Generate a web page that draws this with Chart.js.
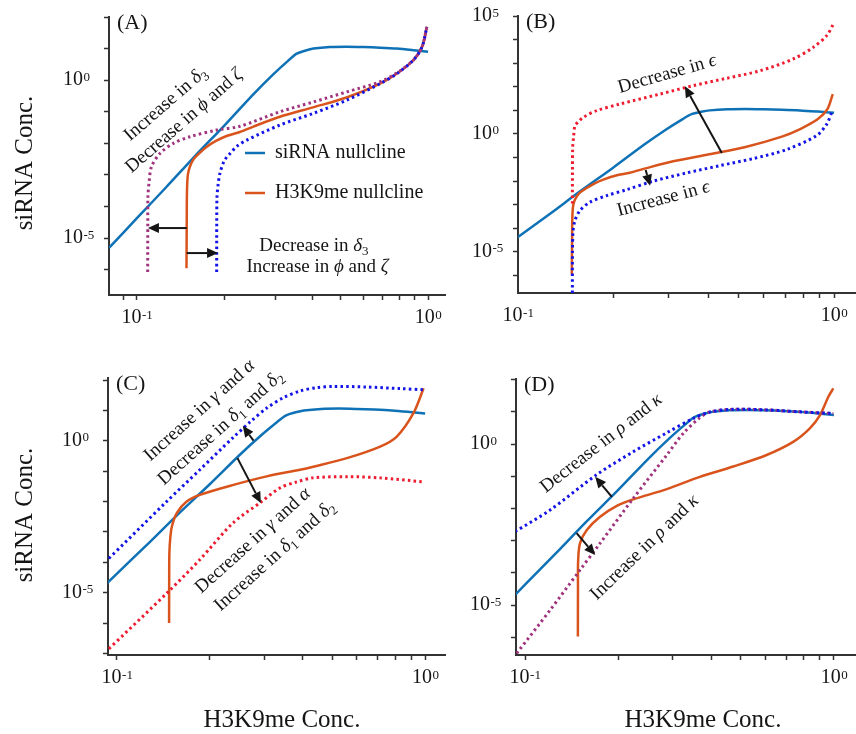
<!DOCTYPE html>
<html>
<head>
<meta charset="utf-8">
<script src="https://cdn.jsdelivr.net/npm/chart.js@4.4.0/dist/chart.umd.min.js"></script>
<style>
  body { margin: 0; background: #fff; }
  #wrap { position: relative; width: 856px; height: 734px; overflow: hidden; }
  canvas { position: absolute; }
</style>
</head>
<body>
<div id="wrap">
  <canvas id="cA" width="450" height="330" style="left:0;top:0"></canvas>
  <canvas id="cB" width="416" height="330" style="left:440px;top:0"></canvas>
  <canvas id="cC" width="450" height="404" style="left:0;top:330px"></canvas>
  <canvas id="cD" width="416" height="404" style="left:440px;top:330px"></canvas>
</div>
<script>
// siRNA nullcline (same curve in all four panels)
const sirnaX = [0.0802, 0.1, 0.126, 0.158, 0.2, 0.251, 0.295, 0.331, 0.354, 0.38, 0.404, 0.46, 0.525, 0.6, 0.684, 0.78, 0.891, 1.0];
const sirnaY = [4.9e-6, 4.27e-5, 4.07e-4, 3.89e-3, 3.72e-2, 0.355, 1.58, 4.17, 6.92, 8.71, 10.0, 11.2, 11.5, 11.2, 10.7, 10.0, 8.91, 7.94];

const h3TopX = [0.148, 0.1483, 0.1486, 0.1496, 0.152, 0.1567, 0.1644, 0.1738, 0.1862, 0.2042, 0.2259, 0.2512, 0.3097, 0.4027, 0.5248, 0.6839, 0.7816, 0.8892, 0.9528, 0.9908];
const h3TopY = [1.12e-6, 3.16e-5, 3.16e-4, 1.0e-3, 1.82e-3, 3.16e-3, 5.01e-3, 7.76e-3, 1.17e-2, 1.74e-2, 2.29e-2, 3.39e-2, 6.92e-2, 0.138, 0.282, 0.776, 1.62, 4.27, 11.2, 49.0];
const h3CX = [0.1476, 0.1477, 0.1479, 0.1489, 0.1507, 0.1563, 0.1683, 0.1858, 0.2388, 0.3062, 0.3926, 0.4335, 0.5572, 0.7145, 0.8091, 0.9162, 0.9886];
const h3CY = [1.0e-6, 3.16e-5, 2.0e-4, 6.31e-4, 1.51e-3, 4.17e-3, 1.0e-2, 1.66e-2, 3.55e-2, 6.76e-2, 0.112, 0.141, 0.269, 0.646, 1.38, 8.13, 53.7];
const h3DX = [0.1483, 0.1484, 0.1486, 0.1507, 0.1585, 0.175, 0.1982, 0.2239, 0.2877, 0.3681, 0.4721, 0.6053, 0.7379, 0.8356, 0.9016, 0.9594, 0.9954];
const h3DY = [1.05e-6, 3.16e-5, 2.51e-4, 8.32e-4, 2.14e-3, 5.5e-3, 1.2e-2, 1.91e-2, 3.98e-2, 9.55e-2, 0.2, 0.457, 1.17, 3.09, 7.94, 29.5, 53.7];

// (A) shifted H3K9me nullclines
const aPinkX = [0.1089, 0.109, 0.1091, 0.1102, 0.1122, 0.12, 0.1334, 0.1521, 0.1879, 0.2259, 0.3097, 0.4036, 0.526, 0.6839, 0.7816, 0.8892, 0.9528, 0.9908];
const aPinkY = [8.51e-7, 3.16e-5, 2.0e-4, 6.31e-4, 1.82e-3, 4.79e-3, 1.0e-2, 1.62e-2, 2.63e-2, 3.47e-2, 0.1, 0.204, 0.427, 0.891, 1.7, 4.27, 11.2, 49.0];
const aBlueX = [0.1879, 0.188, 0.1884, 0.1901, 0.1928, 0.1995, 0.2089, 0.2213, 0.2382, 0.3097, 0.4036, 0.526, 0.6839, 0.7816, 0.8892, 0.9528, 0.9908];
const aBlueY = [8.51e-7, 3.16e-5, 2.0e-4, 5.01e-4, 1.12e-3, 2.82e-3, 4.79e-3, 8.32e-3, 1.26e-2, 3.8e-2, 8.91e-2, 0.234, 0.776, 1.62, 4.27, 11.2, 49.0];

// (B) epsilon
const bRedX = [0.1486, 0.1487, 0.1489, 0.15, 0.1514, 0.1549, 0.1611, 0.1774, 0.2104, 0.2812, 0.3589, 0.4571, 0.5834, 0.743, 0.859, 0.9484, 0.9954];
const bRedY = [1.12e-3, 3.16e-2, 0.251, 0.794, 2.24, 3.16, 5.13, 9.77, 18.6, 49.0, 112, 229, 479, 1510, 4680, 14800, 45700];
const bBlueX = [0.1486, 0.1487, 0.1493, 0.1514, 0.157, 0.169, 0.191, 0.2208, 0.2679, 0.342, 0.4355, 0.5559, 0.7079, 0.881, 0.9484, 0.984];
const bBlueY = [1.82e-7, 1.0e-5, 7.08e-5, 2.14e-4, 5.62e-4, 1.29e-3, 2.45e-3, 4.37e-3, 1.0e-2, 2.24e-2, 4.57e-2, 9.12e-2, 0.219, 0.851, 2.63, 8.32];

// (C) gamma, alpha, delta1, delta2
const cBlueX = [0.0914, 0.1449, 0.1858, 0.2388, 0.2704, 0.3062, 0.3467, 0.3926, 0.4446, 0.5035, 0.6471, 0.8299, 0.9886];
const cBlueY = [1.0e-4, 1.0e-2, 0.112, 1.32, 4.17, 12.0, 26.3, 43.7, 56.2, 61.7, 58.9, 52.5, 47.9];
const cRedX = [0.0914, 0.1466, 0.1858, 0.2382, 0.2911, 0.3381, 0.3837, 0.4325, 0.5585, 0.7145, 0.9863];
const cRedY = [1.07e-7, 1.07e-5, 1.23e-4, 2.0e-3, 9.12e-3, 2.82e-2, 4.47e-2, 6.03e-2, 6.61e-2, 6.03e-2, 4.47e-2];

// (D) rho, kappa
const dBlueX = [0.0929, 0.1205, 0.1706, 0.2239, 0.2877, 0.3508, 0.3972, 0.4721, 0.6053, 0.7762, 0.9954];
const dBlueY = [1.91e-3, 8.91e-3, 0.112, 0.575, 2.24, 6.31, 10.0, 12.0, 11.5, 10.0, 8.91];
const dPurpleX = [0.094, 0.1205, 0.1507, 0.175, 0.2239, 0.2877, 0.3251, 0.3681, 0.3972, 0.4721, 0.6053, 0.7762, 0.9954];
const dPurpleY = [3.16e-7, 6.92e-6, 1.23e-4, 8.32e-4, 2.04e-2, 0.457, 2.14, 6.61, 10.0, 12.0, 11.5, 10.0, 8.91];

// ticks
const xTicks = [0.08, 0.09, 0.1, 0.2, 0.3, 0.4, 0.5, 0.6, 0.7, 0.8, 0.9, 1];
const yTicks = [1e-7, 1e-6, 1e-5, 1e-4, 1e-3, 1e-2, 1e-1, 1, 10, 100, 1e3, 1e4, 1e5];
const xTickLabels = [0.1, 1];

const C_SI = '#0f72b6';
const C_H3 = '#d9541c';
const C_BLUE = '#1414e6';
const C_RED = '#ee1c30';
const C_PURPLE = '#a0337d';
const FONT = "'Liberation Serif', 'Times New Roman', serif";

const pts = (xs, ys) => xs.map((x, i) => ({ x, y: ys[i] }));
const solid = (xs, ys, color) => ({ data: pts(xs, ys), borderColor: color, borderWidth: 2.5, showLine: true, pointRadius: 0, tension: 0.3 });
const dotted = (xs, ys, color) => ({ ...solid(xs, ys, color), borderWidth: 3, borderDash: [2.5, 3.2] });

function fontFor(style, size) {
  if (style === 's') return Math.round(size * 0.68) + 'px ' + FONT;
  if (style === 'i') return 'italic ' + size + 'px ' + FONT;
  return size + 'px ' + FONT;
}

function drawRich(ctx, segs, size) {
  let w = 0;
  segs.forEach(s => { ctx.font = fontFor(s[1], size); w += ctx.measureText(s[0]).width; });
  let x = -w / 2;
  const base = size * 0.32;
  segs.forEach(s => {
    ctx.font = fontFor(s[1], size);
    ctx.fillText(s[0], x, s[1] === 's' ? base + size * 0.22 : base);
    x += ctx.measureText(s[0]).width;
  });
}

function drawPow(ctx, v, x, y, align) {
  const sup = String(Math.round(Math.log10(v)));
  ctx.font = '20px ' + FONT;
  const wb = ctx.measureText('10').width;
  ctx.font = '13px ' + FONT;
  const ws = ctx.measureText(sup).width;
  const x0 = align === 'center' ? x - (wb + ws) / 2 : x - wb;
  ctx.font = '20px ' + FONT;
  ctx.textBaseline = 'middle';
  ctx.fillText('10', x0, y);
  ctx.font = '13px ' + FONT;
  ctx.textBaseline = 'alphabetic';
  ctx.fillText(sup, x0 + wb + 0.5, y + 0.5);
}

function drawArrow(ctx, x1, y1, x2, y2) {
  const a = Math.atan2(y2 - y1, x2 - x1), L = 11, W = 5;
  const bx = x2 - L * Math.cos(a), by = y2 - L * Math.sin(a);
  ctx.beginPath(); ctx.moveTo(x1, y1); ctx.lineTo(bx, by); ctx.stroke();
  ctx.beginPath();
  ctx.moveTo(x2, y2);
  ctx.lineTo(bx + W * Math.sin(a), by - W * Math.cos(a));
  ctx.lineTo(bx - W * Math.sin(a), by + W * Math.cos(a));
  ctx.closePath(); ctx.fill();
}

const decorCfg = {
  cA: {
    letter: '(A)', yLabels: [1, 1e-5], yTitle: [25, 163],
    legend: { dx: 136, dy: 136, gap: 40, items: [['siRNA nullcline', C_SI], ['H3K9me nullcline', C_H3]] },
    notes: [
      { x: 0.1248, y: 0.186, rot: -41, segs: [['Increase in ', ''], ['δ', 'i'], ['3', 's']] },
      { x: 0.1445, y: 0.0537, rot: -41, segs: [['Decrease in ', ''], ['ϕ', 'i'], [' and ', ''], ['ζ', 'i']] },
      { x: 0.4055, y: 6.03e-6, rot: 0, segs: [['Decrease in ', ''], ['δ', 'i'], ['3', 's']] },
      { x: 0.417, y: 1.29e-6, rot: 0, segs: [['Increase in ', ''], ['ϕ', 'i'], [' and ', ''], ['ζ', 'i']] }
    ],
    arrows: [[0.1483, 2.08e-5, 0.1091, 2.08e-5], [0.1483, 3.36e-6, 0.19, 3.36e-6]]
  },
  cB: {
    letter: '(B)', yLabels: [1e5, 1, 1e-5],
    notes: [
      { x: 0.296, y: 380, rot: -16, segs: [['Decrease in ', ''], ['ϵ', 'i']] },
      { x: 0.2877, y: 1.95e-3, rot: -15, segs: [['Increase in ', ''], ['ϵ', 'i']] }
    ],
    arrows: [[0.4416, 0.155, 0.3373, 105], [0.2535, 0.0296, 0.2618, 6.45e-3]]
  },
  cC: {
    letter: '(C)', yLabels: [1, 1e-5], yTitle: [25, 185], xTitle: [282, 390],
    notes: [
      { x: 0.1845, y: 10.5, rot: -42, segs: [['Increase in ', ''], ['γ', 'i'], [' and ', ''], ['α', 'i']] },
      { x: 0.2158, y: 2.82, rot: -42, segs: [['Decrease in ', ''], ['δ', 'i'], ['1', 's'], [' and ', ''], ['δ', 'i'], ['2', 's']] },
      { x: 0.2748, y: 5.5e-4, rot: -42, segs: [['Decrease in ', ''], ['γ', 'i'], [' and ', ''], ['α', 'i']] },
      { x: 0.3236, y: 1.7e-4, rot: -42, segs: [['Increase in ', ''], ['δ', 'i'], ['1', 's'], [' and ', ''], ['δ', 'i'], ['2', 's']] }
    ],
    arrows: [[0.2773, 1.02, 0.2559, 3.11], [0.246, 0.269, 0.2931, 8.9e-3]]
  },
  cD: {
    letter: '(D)', yLabels: [1, 1e-5], xTitle: [263, 390],
    notes: [
      { x: 0.1758, y: 1.12, rot: -38, segs: [['Decrease in ', ''], ['ρ', 'i'], [' and ', ''], ['κ', 'i']] },
      { x: 0.2427, y: 6.46e-4, rot: -44, segs: [['Increase in ', ''], ['ρ', 'i'], [' and ', ''], ['κ', 'i']] }
    ],
    arrows: [[0.191, 0.0229, 0.1687, 0.0958], [0.1469, 1.7e-3, 0.1687, 3.55e-4]]
  }
};

const decor = {
  id: 'decor',
  afterDraw(chart) {
    const o = decorCfg[chart.canvas.id];
    const ctx = chart.ctx, xs = chart.scales.x, ys = chart.scales.y;
    const px = v => xs.getPixelForValue(v), py = v => ys.getPixelForValue(v);
    ctx.save();
    ctx.fillStyle = '#151515';
    ctx.strokeStyle = '#151515';
    ctx.textAlign = 'left';

    xTickLabels.forEach(v => drawPow(ctx, v, px(v), ys.bottom + 23, 'center'));
    o.yLabels.forEach(v => drawPow(ctx, v, xs.left - 26, py(v), 'right'));

    ctx.font = '22px ' + FONT;
    ctx.textBaseline = 'middle';
    ctx.fillText(o.letter, xs.left + 8, ys.top + 6);

    ctx.font = '25px ' + FONT;
    ctx.textAlign = 'center';
    if (o.yTitle) {
      ctx.save();
      ctx.translate(o.yTitle[0], o.yTitle[1]);
      ctx.rotate(-Math.PI / 2);
      ctx.fillText('siRNA Conc.', 0, 0);
      ctx.restore();
    }
    if (o.xTitle) ctx.fillText('H3K9me Conc.', o.xTitle[0], o.xTitle[1]);
    ctx.textAlign = 'left';

    if (o.legend) {
      const L = o.legend;
      L.items.forEach((it, i) => {
        const lx = xs.left + L.dx, ly = ys.top + L.dy + i * L.gap;
        ctx.strokeStyle = it[1];
        ctx.lineWidth = 2.5;
        ctx.beginPath(); ctx.moveTo(lx, ly); ctx.lineTo(lx + 20, ly); ctx.stroke();
        ctx.font = '20px ' + FONT;
        ctx.textBaseline = 'middle';
        ctx.fillText(it[0], lx + 30, ly);
      });
      ctx.strokeStyle = '#151515';
    }

    ctx.textBaseline = 'alphabetic';
    o.notes.forEach(n => {
      ctx.save();
      ctx.translate(px(n.x), py(n.y));
      ctx.rotate(n.rot * Math.PI / 180);
      drawRich(ctx, n.segs, 19);
      ctx.restore();
    });

    ctx.lineWidth = 2;
    o.arrows.forEach(a => drawArrow(ctx, px(a[0]), py(a[1]), px(a[2]), py(a[3])));
    ctx.restore();
  }
};

function axis(kind, min, max, tickVals, size) {
  return {
    type: 'logarithmic', min, max, bounds: 'data',
    afterBuildTicks: s => {
      s.ticks = tickVals.filter(v => v > min * 1.001 && v <= max * 1.001).map(v => ({ value: v }));
    },
    afterFit: s => { if (kind === 'x') s.height = size; else s.width = size; },
    ticks: { autoSkip: false, callback: () => '', font: { size: 1 } },
    grid: { drawOnChartArea: false, drawTicks: true, tickLength: 5, tickWidth: 1.5, tickColor: '#333' },
    border: { display: true, color: '#333', width: 2 }
  };
}

function makePanel(id, p) {
  return new Chart(document.getElementById(id), {
    type: 'scatter',
    data: { datasets: p.datasets },
    options: {
      responsive: false, animation: false, events: [],
      layout: { padding: p.pad },
      plugins: { legend: { display: false }, tooltip: { enabled: false } },
      scales: {
        x: axis('x', p.x[0], p.x[1], xTicks, p.xH),
        y: axis('y', p.y[0], p.y[1], yTicks, p.yW)
      }
    },
    plugins: [decor]
  });
}

makePanel('cA', {
  pad: { left: 0, top: 17, right: 5, bottom: 0 }, yW: 109, xH: 35,
  x: [0.0802, 1.143], y: [1.58e-7, 100],
  datasets: [
    dotted(aPinkX, aPinkY, C_PURPLE),
    dotted(aBlueX, aBlueY, C_BLUE),
    solid(h3TopX, h3TopY, C_H3),
    solid(sirnaX, sirnaY, C_SI)
  ]
});

makePanel('cB', {
  pad: { left: 0, top: 16, right: 1, bottom: 0 }, yW: 78, xH: 37,
  x: [0.1, 1.165], y: [1.82e-7, 1e5],
  datasets: [
    dotted(bRedX, bRedY, C_RED),
    dotted(bBlueX, bBlueY, C_BLUE),
    solid(h3TopX, h3TopY, C_H3),
    solid(sirnaX, sirnaY, C_SI)
  ]
});

makePanel('cC', {
  pad: { left: 0, top: 48, right: 5, bottom: 0 }, yW: 108, xH: 79,
  x: [0.0935, 1.16], y: [8.9e-8, 117],
  datasets: [
    dotted(cBlueX, cBlueY, C_BLUE),
    dotted(cRedX, cRedY, C_RED),
    solid(h3CX, h3CY, C_H3),
    solid(sirnaX, sirnaY, C_SI)
  ]
});

makePanel('cD', {
  pad: { left: 0, top: 49, right: 1, bottom: 0 }, yW: 76, xH: 79,
  x: [0.0935, 1.17], y: [2.8e-7, 105],
  datasets: [
    dotted(dBlueX, dBlueY, C_BLUE),
    dotted(dPurpleX, dPurpleY, C_PURPLE),
    solid(h3DX, h3DY, C_H3),
    solid(sirnaX, sirnaY, C_SI)
  ]
});
</script>
</body>
</html>
